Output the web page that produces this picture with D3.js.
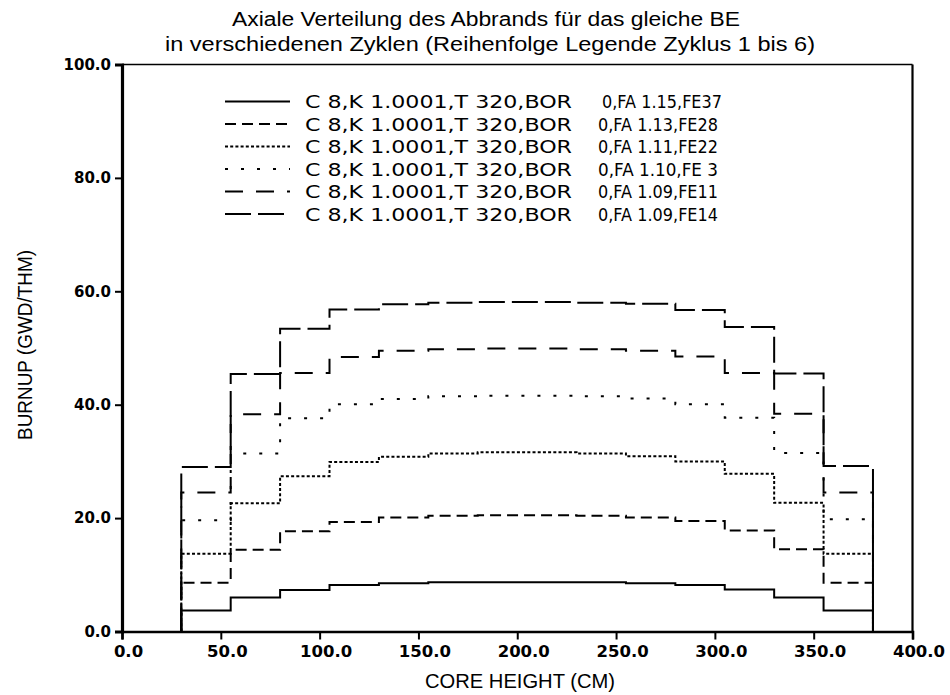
<!DOCTYPE html>
<html>
<head>
<meta charset="utf-8">
<script src="https://cdn.jsdelivr.net/npm/d3@7"></script>
<style>
  body { margin: 0; background: #fff; }
  text { font-family: "Liberation Sans", Arial, sans-serif; fill: #000; }
  .tick text, .legend text { font-family: "DejaVu Sans", sans-serif; }
</style>
</head>
<body>
<svg id="chart" width="950" height="695"></svg>
<script>
// bin edges of the axial nodes (cm) and burnup per node (GWd/tHM), cycle 1..6
let binEdges = [30, 55, 80, 105, 130, 155, 180, 205, 230, 255, 280, 305, 330, 355, 380];

let burnup_fe37 = [3.7, 6.0, 7.3, 8.2, 8.5, 8.7, 8.7, 8.7, 8.7, 8.5, 8.2, 7.4, 6.0, 3.7];
let burnup_fe28 = [8.6, 14.4, 17.7, 19.3, 20.1, 20.4, 20.5, 20.5, 20.4, 20.1, 19.5, 17.8, 14.5, 8.6];
let burnup_fe22 = [13.7, 22.6, 27.4, 29.9, 30.8, 31.4, 31.6, 31.6, 31.4, 30.9, 30.0, 27.8, 22.7, 13.7];
let burnup_fe3  = [19.6, 31.4, 37.6, 40.1, 41.0, 41.5, 41.6, 41.6, 41.5, 41.1, 40.1, 37.7, 31.5, 19.8];
let burnup_fe11 = [24.5, 38.3, 45.6, 48.4, 49.5, 49.8, 49.9, 49.9, 49.8, 49.5, 48.5, 45.6, 38.4, 24.5];
let burnup_fe14 = [29.0, 45.4, 53.4, 56.8, 57.7, 58.0, 58.1, 58.1, 58.0, 57.8, 56.7, 53.7, 45.5, 29.2];

let legendLeft = "C 8,K 1.0001,T 320,BOR";
let legendRight = ["0,FA 1.15,FE37", "0,FA 1.13,FE28", "0,FA 1.11,FE22",
                   "0,FA 1.10,FE 3", "0,FA 1.09,FE11", "0,FA 1.09,FE14"];

let xTicks = [0, 50, 100, 150, 200, 250, 300, 350, 400];
let yTicks = [0, 20, 40, 60, 80, 100];

let titleLines = ["Axiale Verteilung des Abbrands für das gleiche BE",
                  "in verschiedenen Zyklen (Reihenfolge Legende Zyklus 1 bis 6)"];

let series = [burnup_fe37, burnup_fe28, burnup_fe22, burnup_fe3, burnup_fe11, burnup_fe14];
let dashes = [null, "11,6", "3,2.2", "3,13", "18,13", "26,7"];

let svg = d3.select("#chart");

let x = d3.scaleLinear().domain([0, 400]).range([122, 912.5]);
let y = d3.scaleLinear().domain([0, 100]).range([631.5, 64.5]);

// frame (top + right)
svg.append("line").attr("x1", x(0)).attr("x2", x(400)).attr("y1", y(100)).attr("y2", y(100))
    .attr("stroke", "#000").attr("stroke-width", 1.5);
svg.append("line").attr("x1", x(400)).attr("x2", x(400)).attr("y1", y(100)).attr("y2", y(0))
    .attr("stroke", "#000").attr("stroke-width", 2.2);

// step lines
let line = d3.line()
    .x(d => x(d[0]))
    .y(d => y(d[1]))
    .curve(d3.curveStepAfter);

series.forEach((vals, i) => {
    let pts = [[binEdges[0], 0]];
    vals.forEach((v, j) => pts.push([binEdges[j], v]));
    pts.push([binEdges[binEdges.length - 1], vals[vals.length - 1]]);
    pts.push([binEdges[binEdges.length - 1], 0]);
    svg.append("path")
        .attr("d", line(pts))
        .attr("fill", "none")
        .attr("stroke", "#000")
        .attr("stroke-width", 2)
        .attr("stroke-dasharray", dashes[i]);
});

// axes
let xAxis = svg.append("g").attr("transform", `translate(0,${y(0)})`)
    .call(d3.axisBottom(x).tickValues(xTicks).tickSize(8).tickFormat(d3.format(".1f")));
xAxis.select(".domain").attr("stroke-width", 2.6);
xAxis.selectAll(".tick line").attr("stroke-width", 2);
xAxis.selectAll("text").attr("font-size", 16.5).attr("font-weight", "bold")
    .attr("dx", 6).attr("dy", 14);

let yAxis = svg.append("g").attr("transform", `translate(${x(0)},0)`)
    .call(d3.axisLeft(y).tickValues(yTicks).tickSize(7).tickFormat(d3.format(".1f")));
yAxis.select(".domain").attr("stroke-width", 3.2);
yAxis.selectAll(".tick line").attr("stroke-width", 2);
yAxis.selectAll("text").attr("font-size", 15).attr("font-weight", "bold").attr("dx", -1);

// title
let titleWidths = [508, 650];
svg.selectAll(".title").data(titleLines).enter().append("text")
    .attr("class", "title")
    .attr("x", (d, i) => i === 0 ? 486 : 490)
    .attr("y", (d, i) => 26 + i * 25)
    .attr("text-anchor", "middle")
    .attr("font-size", 20)
    .attr("textLength", (d, i) => titleWidths[i])
    .attr("lengthAdjust", "spacingAndGlyphs")
    .text(d => d);

// axis labels
svg.append("text").attr("x", 520).attr("y", 688).attr("text-anchor", "middle")
    .attr("font-size", 20).attr("textLength", 190).attr("lengthAdjust", "spacingAndGlyphs")
    .text("CORE HEIGHT (CM)");
svg.append("text").attr("transform", "translate(32,345) rotate(-90)")
    .attr("text-anchor", "middle").attr("font-size", 20)
    .attr("textLength", 190).attr("lengthAdjust", "spacingAndGlyphs")
    .text("BURNUP (GWD/THM)");

// legend
let legend = svg.selectAll(".legend").data(legendRight).enter().append("g")
    .attr("class", "legend")
    .attr("transform", (d, i) => `translate(225,${101.5 + i * 22.5})`);
legend.append("line").attr("x1", 0).attr("x2", 65).attr("y1", 0).attr("y2", 0)
    .attr("stroke", "#000").attr("stroke-width", 2)
    .attr("stroke-dasharray", (d, i) => dashes[i]);
legend.append("text").attr("x", 80).attr("y", 6.5).attr("font-size", 17)
    .attr("textLength", 267).attr("lengthAdjust", "spacingAndGlyphs")
    .text(legendLeft);
legend.append("text").attr("x", (d, i) => i === 0 ? 377 : 373).attr("y", 6.5)
    .attr("font-size", 17)
    .attr("textLength", 120).attr("lengthAdjust", "spacingAndGlyphs")
    .text(d => d);
</script>
</body>
</html>
